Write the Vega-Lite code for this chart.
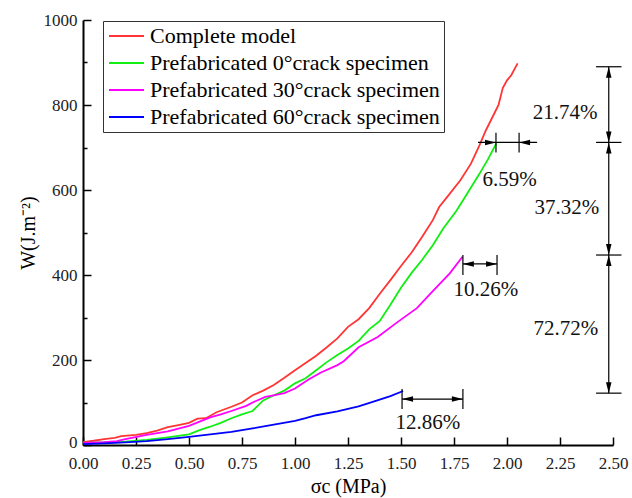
{
  "$schema": "https://vega.github.io/schema/vega-lite/v6.json",
  "width": 530,
  "height": 425,
  "autosize": "none",
  "padding": {"left": 83, "top": 20, "right": 19, "bottom": 53},
  "background": "white",
  "config": {
    "view": {"stroke": null},
    "axis": {"grid": false, "domainColor": "black", "domainWidth": 2, "tickColor": "black", "tickWidth": 1.5,
      "labelFont": "Liberation Serif", "labelColor": "#222", "titleFont": "Liberation Serif", "titleColor": "black", "titleFontWeight": "normal"}
  },
  "datasets": {
    "curves": [
      {"s": "Complete model", "x": 0, "y": 7}, {"s": "Complete model", "x": 0.05, "y": 10}, {"s": "Complete model", "x": 0.1, "y": 14}, {"s": "Complete model", "x": 0.15, "y": 17}, {"s": "Complete model", "x": 0.18, "y": 21}, {"s": "Complete model", "x": 0.25, "y": 24}, {"s": "Complete model", "x": 0.3, "y": 28}, {"s": "Complete model", "x": 0.35, "y": 34}, {"s": "Complete model", "x": 0.4, "y": 42}, {"s": "Complete model", "x": 0.45, "y": 47}, {"s": "Complete model", "x": 0.5, "y": 52}, {"s": "Complete model", "x": 0.54, "y": 62}, {"s": "Complete model", "x": 0.58, "y": 63}, {"s": "Complete model", "x": 0.63, "y": 77}, {"s": "Complete model", "x": 0.7, "y": 90}, {"s": "Complete model", "x": 0.75, "y": 100}, {"s": "Complete model", "x": 0.8, "y": 117}, {"s": "Complete model", "x": 0.85, "y": 128}, {"s": "Complete model", "x": 0.9, "y": 141}, {"s": "Complete model", "x": 0.95, "y": 158}, {"s": "Complete model", "x": 1.0, "y": 176}, {"s": "Complete model", "x": 1.05, "y": 193}, {"s": "Complete model", "x": 1.1, "y": 210}, {"s": "Complete model", "x": 1.15, "y": 230}, {"s": "Complete model", "x": 1.2, "y": 251}, {"s": "Complete model", "x": 1.25, "y": 278}, {"s": "Complete model", "x": 1.3, "y": 296}, {"s": "Complete model", "x": 1.35, "y": 322}, {"s": "Complete model", "x": 1.4, "y": 356}, {"s": "Complete model", "x": 1.45, "y": 388}, {"s": "Complete model", "x": 1.5, "y": 421}, {"s": "Complete model", "x": 1.55, "y": 453}, {"s": "Complete model", "x": 1.6, "y": 490}, {"s": "Complete model", "x": 1.65, "y": 529}, {"s": "Complete model", "x": 1.68, "y": 560}, {"s": "Complete model", "x": 1.72, "y": 585}, {"s": "Complete model", "x": 1.78, "y": 623}, {"s": "Complete model", "x": 1.83, "y": 662}, {"s": "Complete model", "x": 1.87, "y": 705}, {"s": "Complete model", "x": 1.9, "y": 740}, {"s": "Complete model", "x": 1.93, "y": 770}, {"s": "Complete model", "x": 1.96, "y": 800}, {"s": "Complete model", "x": 1.98, "y": 840}, {"s": "Complete model", "x": 2.0, "y": 858}, {"s": "Complete model", "x": 2.02, "y": 870}, {"s": "Complete model", "x": 2.05, "y": 898},
      {"s": "Prefabricated 0°crack specimen", "x": 0, "y": 5}, {"s": "Prefabricated 0°crack specimen", "x": 0.1, "y": 6}, {"s": "Prefabricated 0°crack specimen", "x": 0.2, "y": 8}, {"s": "Prefabricated 0°crack specimen", "x": 0.3, "y": 12}, {"s": "Prefabricated 0°crack specimen", "x": 0.4, "y": 18}, {"s": "Prefabricated 0°crack specimen", "x": 0.5, "y": 25}, {"s": "Prefabricated 0°crack specimen", "x": 0.55, "y": 35}, {"s": "Prefabricated 0°crack specimen", "x": 0.6, "y": 43}, {"s": "Prefabricated 0°crack specimen", "x": 0.65, "y": 52}, {"s": "Prefabricated 0°crack specimen", "x": 0.7, "y": 63}, {"s": "Prefabricated 0°crack specimen", "x": 0.75, "y": 72}, {"s": "Prefabricated 0°crack specimen", "x": 0.8, "y": 80}, {"s": "Prefabricated 0°crack specimen", "x": 0.85, "y": 105}, {"s": "Prefabricated 0°crack specimen", "x": 0.9, "y": 117}, {"s": "Prefabricated 0°crack specimen", "x": 0.95, "y": 128}, {"s": "Prefabricated 0°crack specimen", "x": 1.0, "y": 145}, {"s": "Prefabricated 0°crack specimen", "x": 1.05, "y": 157}, {"s": "Prefabricated 0°crack specimen", "x": 1.1, "y": 176}, {"s": "Prefabricated 0°crack specimen", "x": 1.15, "y": 195}, {"s": "Prefabricated 0°crack specimen", "x": 1.2, "y": 212}, {"s": "Prefabricated 0°crack specimen", "x": 1.25, "y": 227}, {"s": "Prefabricated 0°crack specimen", "x": 1.3, "y": 245}, {"s": "Prefabricated 0°crack specimen", "x": 1.35, "y": 272}, {"s": "Prefabricated 0°crack specimen", "x": 1.4, "y": 292}, {"s": "Prefabricated 0°crack specimen", "x": 1.45, "y": 330}, {"s": "Prefabricated 0°crack specimen", "x": 1.5, "y": 370}, {"s": "Prefabricated 0°crack specimen", "x": 1.55, "y": 405}, {"s": "Prefabricated 0°crack specimen", "x": 1.6, "y": 436}, {"s": "Prefabricated 0°crack specimen", "x": 1.65, "y": 470}, {"s": "Prefabricated 0°crack specimen", "x": 1.7, "y": 510}, {"s": "Prefabricated 0°crack specimen", "x": 1.76, "y": 550}, {"s": "Prefabricated 0°crack specimen", "x": 1.8, "y": 582}, {"s": "Prefabricated 0°crack specimen", "x": 1.87, "y": 638}, {"s": "Prefabricated 0°crack specimen", "x": 1.91, "y": 672}, {"s": "Prefabricated 0°crack specimen", "x": 1.95, "y": 710},
      {"s": "Prefabricated 30°crack specimen", "x": 0, "y": 5}, {"s": "Prefabricated 30°crack specimen", "x": 0.1, "y": 7}, {"s": "Prefabricated 30°crack specimen", "x": 0.16, "y": 9}, {"s": "Prefabricated 30°crack specimen", "x": 0.2, "y": 14}, {"s": "Prefabricated 30°crack specimen", "x": 0.3, "y": 24}, {"s": "Prefabricated 30°crack specimen", "x": 0.4, "y": 32}, {"s": "Prefabricated 30°crack specimen", "x": 0.5, "y": 45}, {"s": "Prefabricated 30°crack specimen", "x": 0.55, "y": 55}, {"s": "Prefabricated 30°crack specimen", "x": 0.6, "y": 65}, {"s": "Prefabricated 30°crack specimen", "x": 0.65, "y": 72}, {"s": "Prefabricated 30°crack specimen", "x": 0.7, "y": 80}, {"s": "Prefabricated 30°crack specimen", "x": 0.77, "y": 92}, {"s": "Prefabricated 30°crack specimen", "x": 0.8, "y": 100}, {"s": "Prefabricated 30°crack specimen", "x": 0.86, "y": 113}, {"s": "Prefabricated 30°crack specimen", "x": 0.9, "y": 117}, {"s": "Prefabricated 30°crack specimen", "x": 0.95, "y": 122}, {"s": "Prefabricated 30°crack specimen", "x": 1.0, "y": 133}, {"s": "Prefabricated 30°crack specimen", "x": 1.06, "y": 153}, {"s": "Prefabricated 30°crack specimen", "x": 1.12, "y": 170}, {"s": "Prefabricated 30°crack specimen", "x": 1.2, "y": 188}, {"s": "Prefabricated 30°crack specimen", "x": 1.23, "y": 197}, {"s": "Prefabricated 30°crack specimen", "x": 1.3, "y": 230}, {"s": "Prefabricated 30°crack specimen", "x": 1.39, "y": 254}, {"s": "Prefabricated 30°crack specimen", "x": 1.48, "y": 288}, {"s": "Prefabricated 30°crack specimen", "x": 1.575, "y": 322}, {"s": "Prefabricated 30°crack specimen", "x": 1.65, "y": 362}, {"s": "Prefabricated 30°crack specimen", "x": 1.73, "y": 404}, {"s": "Prefabricated 30°crack specimen", "x": 1.79, "y": 443},
      {"s": "Prefabricated 60°crack specimen", "x": 0, "y": 2}, {"s": "Prefabricated 60°crack specimen", "x": 0.1, "y": 4}, {"s": "Prefabricated 60°crack specimen", "x": 0.2, "y": 6}, {"s": "Prefabricated 60°crack specimen", "x": 0.3, "y": 9}, {"s": "Prefabricated 60°crack specimen", "x": 0.4, "y": 14}, {"s": "Prefabricated 60°crack specimen", "x": 0.5, "y": 19}, {"s": "Prefabricated 60°crack specimen", "x": 0.6, "y": 25}, {"s": "Prefabricated 60°crack specimen", "x": 0.7, "y": 31}, {"s": "Prefabricated 60°crack specimen", "x": 0.8, "y": 39}, {"s": "Prefabricated 60°crack specimen", "x": 0.9, "y": 48}, {"s": "Prefabricated 60°crack specimen", "x": 1.0, "y": 57}, {"s": "Prefabricated 60°crack specimen", "x": 1.05, "y": 63}, {"s": "Prefabricated 60°crack specimen", "x": 1.1, "y": 70}, {"s": "Prefabricated 60°crack specimen", "x": 1.2, "y": 79}, {"s": "Prefabricated 60°crack specimen", "x": 1.3, "y": 91}, {"s": "Prefabricated 60°crack specimen", "x": 1.37, "y": 102}, {"s": "Prefabricated 60°crack specimen", "x": 1.45, "y": 115}, {"s": "Prefabricated 60°crack specimen", "x": 1.51, "y": 127}
    ],
    "segs": [
      {"x": 2.48, "x2": 2.48, "y": 122, "y2": 890},
      {"x": 2.42, "x2": 2.54, "y": 890, "y2": 890},
      {"x": 2.42, "x2": 2.54, "y": 712, "y2": 712},
      {"x": 2.42, "x2": 2.54, "y": 447, "y2": 447},
      {"x": 2.42, "x2": 2.54, "y": 122, "y2": 122},
      {"x": 1.863, "x2": 2.142, "y": 712, "y2": 712},
      {"x": 1.948, "x2": 1.948, "y": 688, "y2": 735},
      {"x": 2.057, "x2": 2.057, "y": 688, "y2": 735},
      {"x": 1.792, "x2": 1.953, "y": 426, "y2": 426},
      {"x": 1.792, "x2": 1.792, "y": 400, "y2": 447},
      {"x": 1.953, "x2": 1.953, "y": 400, "y2": 447},
      {"x": 1.505, "x2": 1.792, "y": 108, "y2": 108},
      {"x": 1.505, "x2": 1.505, "y": 85, "y2": 132},
      {"x": 1.792, "x2": 1.792, "y": 85, "y2": 132}
    ],
    "arrUp": [{"x": 2.48, "y": 890}, {"x": 2.48, "y": 712}, {"x": 2.48, "y": 447}],
    "arrDown": [{"x": 2.48, "y": 712}, {"x": 2.48, "y": 447}, {"x": 2.48, "y": 122}],
    "arrRight": [{"x": 1.948, "y": 712}, {"x": 1.953, "y": 426}, {"x": 1.792, "y": 108}],
    "arrLeft": [{"x": 2.057, "y": 712}, {"x": 1.792, "y": 426}, {"x": 1.505, "y": 108}],
    "labels": [
      {"t": "21.74%", "x": 2.274, "y": 781},
      {"t": "37.32%", "x": 2.283, "y": 558},
      {"t": "72.72%", "x": 2.278, "y": 273},
      {"t": "6.59%", "x": 2.012, "y": 624},
      {"t": "10.26%", "x": 1.9, "y": 365},
      {"t": "12.86%", "x": 1.627, "y": 52}
    ]
  },
  "layer": [
    {
      "data": {"name": "curves"},
      "mark": {"type": "line", "clip": false},
      "encoding": {
        "x": {"field": "x", "type": "quantitative",
          "scale": {"domain": [0, 2.5], "nice": false, "zero": false},
          "axis": {"title": "σc (MPa)", "titleFontSize": 20, "titlePadding": 5,
            "values": [0, 0.125, 0.25, 0.375, 0.5, 0.625, 0.75, 0.875, 1, 1.125, 1.25, 1.375, 1.5, 1.625, 1.75, 1.875, 2, 2.125, 2.25, 2.375, 2.5],
            "labelExpr": "abs(datum.value*4 - round(datum.value*4)) < 0.001 ? format(datum.value, '.2f') : ''",
            "tickSize": {"condition": {"test": "abs(datum.value*4 - round(datum.value*4)) < 0.001", "value": -8}, "value": -4},
            "labelFontSize": 17, "labelPadding": 18, "labelFlush": false, "labelOverlap": false}
        },
        "y": {"field": "y", "type": "quantitative",
          "scale": {"domain": [0, 1000], "nice": false},
          "axis": {"title": "W(J.m⁻²)", "titleFontSize": 20, "titlePadding": 5,
            "values": [0, 100, 200, 300, 400, 500, 600, 700, 800, 900, 1000],
            "labelExpr": "datum.value % 200 == 0 ? datum.label : ''",
            "format": "d",
            "tickSize": {"condition": {"test": "datum.value % 200 == 0", "value": -8}, "value": -4},
            "labelOffset": {"condition": {"test": "datum.value == 0", "value": -3}, "value": 0},
            "labelFontSize": 17, "labelPadding": 14, "labelFlush": false, "labelOverlap": false}
        },
        "color": {"field": "s", "type": "nominal",
          "scale": {"domain": ["Complete model", "Prefabricated 0°crack specimen", "Prefabricated 30°crack specimen", "Prefabricated 60°crack specimen"],
            "range": ["#ff3535", "#11ee11", "#ff00ff", "#0000ff"]},
          "legend": {"orient": "none", "legendX": 20, "legendY": 1, "title": null,
            "symbolType": "M-1.8,0H5.2", "symbolSize": 100, "symbolStrokeWidth": 1.5,
            "labelFont": "Liberation Serif", "labelFontSize": 22, "labelColor": "black", "labelLimit": 500, "labelOffset": 21,
            "strokeColor": "#333", "fillColor": "white", "padding": 4, "rowPadding": 5}
        },
        "strokeWidth": {"field": "s", "type": "nominal",
          "scale": {"domain": ["Complete model", "Prefabricated 0°crack specimen", "Prefabricated 30°crack specimen", "Prefabricated 60°crack specimen"],
            "range": [1.8, 1.8, 1.8, 4]},
          "legend": null}
      }
    },
    {
      "data": {"name": "segs"},
      "mark": {"type": "rule", "color": "black", "strokeWidth": 1.2, "clip": false},
      "encoding": {
        "x": {"field": "x", "type": "quantitative"},
        "x2": {"field": "x2"},
        "y": {"field": "y", "type": "quantitative"},
        "y2": {"field": "y2"}
      }
    },
    {
      "data": {"name": "arrUp"},
      "mark": {"type": "point", "shape": "M0,0L-0.55,2.2L0.55,2.2Z", "filled": true, "color": "black", "opacity": 1, "size": 100, "clip": false},
      "encoding": {"x": {"field": "x", "type": "quantitative"}, "y": {"field": "y", "type": "quantitative"}}
    },
    {
      "data": {"name": "arrDown"},
      "mark": {"type": "point", "shape": "M0,0L-0.55,-2.2L0.55,-2.2Z", "filled": true, "color": "black", "opacity": 1, "size": 100, "clip": false},
      "encoding": {"x": {"field": "x", "type": "quantitative"}, "y": {"field": "y", "type": "quantitative"}}
    },
    {
      "data": {"name": "arrRight"},
      "mark": {"type": "point", "shape": "M0,0L-2.2,-0.55L-2.2,0.55Z", "filled": true, "color": "black", "opacity": 1, "size": 100, "clip": false},
      "encoding": {"x": {"field": "x", "type": "quantitative"}, "y": {"field": "y", "type": "quantitative"}}
    },
    {
      "data": {"name": "arrLeft"},
      "mark": {"type": "point", "shape": "M0,0L2.2,-0.55L2.2,0.55Z", "filled": true, "color": "black", "opacity": 1, "size": 100, "clip": false},
      "encoding": {"x": {"field": "x", "type": "quantitative"}, "y": {"field": "y", "type": "quantitative"}}
    },
    {
      "data": {"name": "labels"},
      "mark": {"type": "text", "font": "Liberation Serif", "fontSize": 21, "color": "#111", "align": "center", "baseline": "middle", "clip": false},
      "encoding": {"x": {"field": "x", "type": "quantitative"}, "y": {"field": "y", "type": "quantitative"}, "text": {"field": "t"}}
    }
  ]
}
